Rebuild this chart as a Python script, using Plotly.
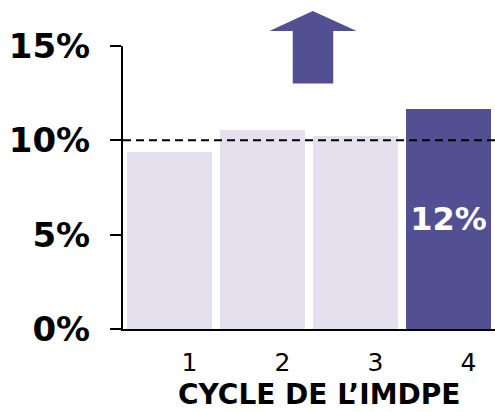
import plotly.graph_objects as go

cycles = [1, 2, 3, 4]
tick_labels = ["1", "2", "3", "4"]
values = [9.4, 10.55, 10.22, 11.65]
bar_labels = ["", "", "", "12%"]
bar_colors = ["#E5E0ED", "#E5E0ED", "#E5E0ED", "#524F93"]
y_ticks = [0, 5, 10, 15]
y_tick_labels = ["0%", "5%", "10%", "15%"]
reference_level = 10
x_title = "CYCLE DE L’IMDPE"

FONT = "DejaVu Sans"

fig = go.Figure()
fig.add_trace(go.Bar(
    x=cycles, y=values, width=0.915,
    marker=dict(color=bar_colors, line=dict(width=0)),
    text=bar_labels, textposition="inside", insidetextanchor="middle",
    textfont=dict(family=FONT, size=32, color="white", weight="bold"),
    textangle=0, cliponaxis=False, hoverinfo="skip",
))

# dashed reference line at 10%
fig.add_shape(type="line", xref="paper", x0=0, x1=1, yref="y",
              y0=reference_level, y1=reference_level,
              line=dict(color="black", width=2, dash="8px,5px"), layer="above")

# upward arrow above the bars
ax = [0.4563, 0.5652, 0.5652, 0.628, 0.5102, 0.3935, 0.4563]
ay = [0.8673, 0.8673, 1.0530, 1.0530, 1.1236, 1.0530, 1.0530]
path = "M " + " L ".join(f"{x},{y}" for x, y in zip(ax, ay)) + " Z"
fig.add_shape(type="path", xref="paper", yref="paper", path=path,
              fillcolor="#524F93", line=dict(width=0))

fig.add_annotation(text=x_title, xref="paper", yref="paper",
                   x=0.528, y=-0.2304, xanchor="center", yanchor="middle",
                   showarrow=False,
                   font=dict(family=FONT, size=28, color="black", weight="bold"))

fig.update_layout(
    width=495, height=412,
    margin=dict(l=123, r=0, t=46, b=83, pad=0, autoexpand=False),
    paper_bgcolor="white", plot_bgcolor="white",
    showlegend=False, bargap=0,
    xaxis=dict(range=[0.5, 4.5], tickvals=cycles, ticktext=tick_labels,
               showgrid=False, zeroline=False, showline=True, automargin=False,
               linecolor="black", linewidth=2, ticks="",
               ticklabelshift=20, ticklabelstandoff=10,
               tickfont=dict(family=FONT, size=25, color="black")),
    yaxis=dict(range=[0, 15], tickvals=y_ticks, ticktext=y_tick_labels,
               showgrid=False, zeroline=False, showline=True, automargin=False,
               linecolor="black", linewidth=2, ticks="outside",
               ticklen=11, tickwidth=2, tickcolor="black",
               ticklabelstandoff=13,
               tickfont=dict(family=FONT, size=34, color="black", weight="bold")),
)

fig.write_html("out.html", config={"displayModeBar": False},
               post_script="document.body.style.margin='0';document.body.style.overflow='hidden';")
